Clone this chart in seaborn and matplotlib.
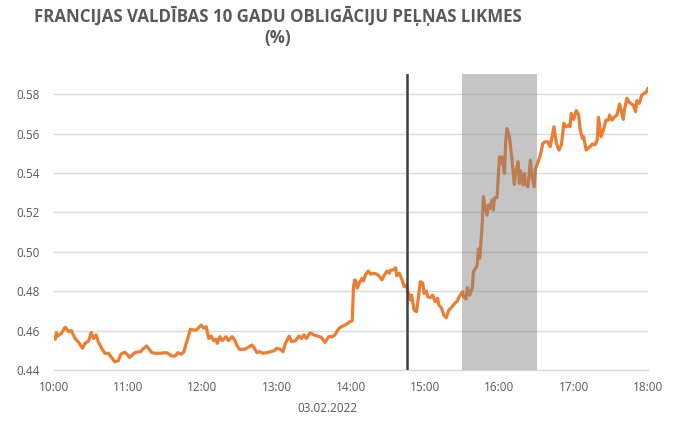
import pandas as pd
import matplotlib
matplotlib.use("Agg")
import matplotlib.pyplot as plt
import matplotlib.dates as mdates
import seaborn as sns

# Minutes after 10:00 on 03.02.2022 and the yield (%)
minutes = [
    1, 2, 3, 6, 9, 12, 14, 17, 20, 23, 25, 28, 30, 32, 34, 36, 39, 41, 44, 47,
    49, 52, 54, 57, 59, 61, 64, 66, 70, 72, 75, 77, 79, 82, 86, 90, 92, 95, 98, 100,
    103, 105, 107, 109, 110, 113, 115, 119, 121, 123, 125, 127, 129, 131, 132, 134, 136, 139, 141, 144,
    146, 148, 150, 154, 157, 160, 162, 164, 166, 169, 172, 175, 178, 180, 183, 185, 187, 190, 192, 195,
    198, 200, 202, 204, 207, 210, 213, 216, 219, 222, 225, 227, 229, 231, 234, 237, 239, 241, 242, 243,
    244, 245, 247, 249, 250, 252, 254, 256, 258, 261, 263, 265, 267, 269, 271, 272, 274, 276, 277, 279,
    281, 283, 285, 286, 288, 289, 291, 293, 294, 296, 298, 299, 301, 302, 304, 306, 308, 310, 311, 313,
    315, 317, 319, 321, 324, 326, 327, 330, 331, 333, 334, 336, 338, 339, 341, 342, 343, 344, 346, 347,
    348, 350, 351, 352, 354, 355, 356, 358, 360, 361, 362, 364, 365, 366, 368, 370, 372, 373, 375, 376,
    377, 379, 380, 381, 383, 385, 386, 388, 389, 391, 393, 395, 397, 399, 401, 402, 404, 406, 408, 410,
    412, 414, 416, 417, 418, 420, 422, 424, 425, 427, 428, 430, 433, 435, 437, 439, 440, 442, 444, 446,
    448, 449, 451, 453, 455, 457, 460, 461, 463, 465, 468, 470, 471, 473, 475, 477, 479, 480,
]
yields = [
    0.4556, 0.4589, 0.4572, 0.4586, 0.4617, 0.4594, 0.4600, 0.4560, 0.4540, 0.4510,
    0.4535, 0.4547, 0.4590, 0.4560, 0.4578, 0.4540, 0.4505, 0.4485, 0.4485, 0.4459,
    0.4442, 0.4447, 0.4480, 0.4490, 0.4480, 0.4464, 0.4481, 0.4490, 0.4493, 0.4507,
    0.4522, 0.4505, 0.4488, 0.4485, 0.4485, 0.4488, 0.4485, 0.4471, 0.4471, 0.4488,
    0.4480, 0.4493, 0.4539, 0.4578, 0.4606, 0.4603, 0.4603, 0.4628, 0.4612, 0.4620,
    0.4560, 0.4572, 0.4549, 0.4556, 0.4535, 0.4569, 0.4549, 0.4569, 0.4549, 0.4569,
    0.4552, 0.4522, 0.4505, 0.4505, 0.4515, 0.4527, 0.4510, 0.4488, 0.4493, 0.4485,
    0.4488, 0.4493, 0.4498, 0.4510, 0.4505, 0.4493, 0.4535, 0.4572, 0.4544, 0.4549,
    0.4572, 0.4560, 0.4578, 0.4560, 0.4589, 0.4578, 0.4572, 0.4566, 0.4540, 0.4569,
    0.4569, 0.4578, 0.4600, 0.4615, 0.4625, 0.4635, 0.4645, 0.4650, 0.4823, 0.4857,
    0.4852, 0.4815, 0.4845, 0.4865, 0.4852, 0.4886, 0.4902, 0.4886, 0.4891, 0.4886,
    0.4874, 0.4857, 0.4882, 0.4902, 0.4891, 0.4907, 0.4907, 0.4919, 0.4878, 0.4891,
    0.4862, 0.4823, 0.4831, 0.4797, 0.4755, 0.4780, 0.4704, 0.4696, 0.4747, 0.4848,
    0.4840, 0.4789, 0.4801, 0.4772, 0.4767, 0.4780, 0.4747, 0.4764, 0.4730, 0.4716,
    0.4679, 0.4665, 0.4704, 0.4716, 0.4740, 0.4750, 0.4767, 0.4797, 0.4772, 0.4760,
    0.4818, 0.4780, 0.4815, 0.4899, 0.4919, 0.4933, 0.5014, 0.4967, 0.5136, 0.5279,
    0.5237, 0.5186, 0.5237, 0.5220, 0.5263, 0.5212, 0.5274, 0.5274, 0.5482, 0.5448,
    0.5482, 0.5397, 0.5558, 0.5626, 0.5584, 0.5474, 0.5342, 0.5397, 0.5457, 0.5347,
    0.5410, 0.5339, 0.5397, 0.5347, 0.5330, 0.5465, 0.5389, 0.5330, 0.5420, 0.5452,
    0.5490, 0.5550, 0.5558, 0.5558, 0.5533, 0.5567, 0.5634, 0.5550, 0.5516, 0.5542,
    0.5652, 0.5634, 0.5643, 0.5634, 0.5702, 0.5672, 0.5716, 0.5694, 0.5626, 0.5576,
    0.5584, 0.5516, 0.5533, 0.5547, 0.5542, 0.5567, 0.5682, 0.5584, 0.5618, 0.5668,
    0.5668, 0.5694, 0.5668, 0.5685, 0.5694, 0.5750, 0.5672, 0.5723, 0.5779, 0.5757,
    0.5745, 0.5711, 0.5767, 0.5753, 0.5795, 0.5804, 0.5812, 0.5830,
]

day = pd.Timestamp("2022-02-03 10:00")
df = pd.DataFrame({
    "time": day + pd.to_timedelta(minutes, unit="m"),
    "yield": yields,
})

title = "FRANCIJAS VALDĪBAS 10 GADU OBLIGĀCIJU PEĻŅAS LIKMES"
date_label = "03.02.2022"
y_ticks = [0.44, 0.46, 0.48, 0.50, 0.52, 0.54, 0.56, 0.58]
event_time = pd.Timestamp("2022-02-03 14:45")
band_start = pd.Timestamp("2022-02-03 15:30")
band_end = pd.Timestamp("2022-02-03 16:30")

sns.set_style("white")
plt.rcParams["font.family"] = ["Open Sans", "DejaVu Sans"]

grey_text = "#595959"
grid_col = "#D9D9D9"

fig = plt.figure(figsize=(6.73, 4.22), dpi=100)
ax = fig.add_axes([54 / 673, 1 - 370 / 422, 594 / 673, 296 / 422])

sns.lineplot(data=df, x="time", y="yield", ax=ax, color="#ED7D31",
             linewidth=2.3, zorder=3)

# Shaded period and event marker
ax.axvspan(band_start, band_end, color="#808080", alpha=0.45, lw=0, zorder=4)
ax.axvline(event_time, color="#404040", linewidth=1.8, zorder=5)

ax.set_xlim(day, day + pd.Timedelta(hours=8))
ax.set_ylim(0.44, 0.5902)
ax.set_yticks(y_ticks)
ax.yaxis.set_major_formatter(plt.FormatStrFormatter("%.2f"))
ax.xaxis.set_major_locator(mdates.HourLocator())
ax.xaxis.set_major_formatter(mdates.DateFormatter("%H:%M"))

for v in y_ticks[1:]:
    ax.axhline(v, color=grid_col, linewidth=1.0, zorder=1)

for side in ["top", "right", "left"]:
    ax.spines[side].set_visible(False)
ax.spines["bottom"].set_color(grid_col)
ax.spines["bottom"].set_linewidth(1.0)

ax.tick_params(axis="x", colors=grid_col, labelcolor=grey_text, length=5,
               width=1, direction="out", labelsize=8.5, pad=3)
ax.tick_params(axis="y", length=0, labelcolor=grey_text, labelsize=8.5, pad=10)
ax.set_xlabel("")
ax.set_ylabel("")

fig.text(278 / 673, 1 - 16 / 422, title, ha="center", va="center",
         fontsize=12.2, fontweight="bold", color=grey_text)
fig.text(278 / 673, 1 - 38 / 422, "(%)", ha="center", va="center",
         fontsize=12.2, fontweight="bold", color=grey_text)
fig.text(327 / 673, 1 - 409 / 422, date_label, ha="center", va="center",
         fontsize=8.5, color=grey_text)

fig.savefig("out.png", dpi=100)
